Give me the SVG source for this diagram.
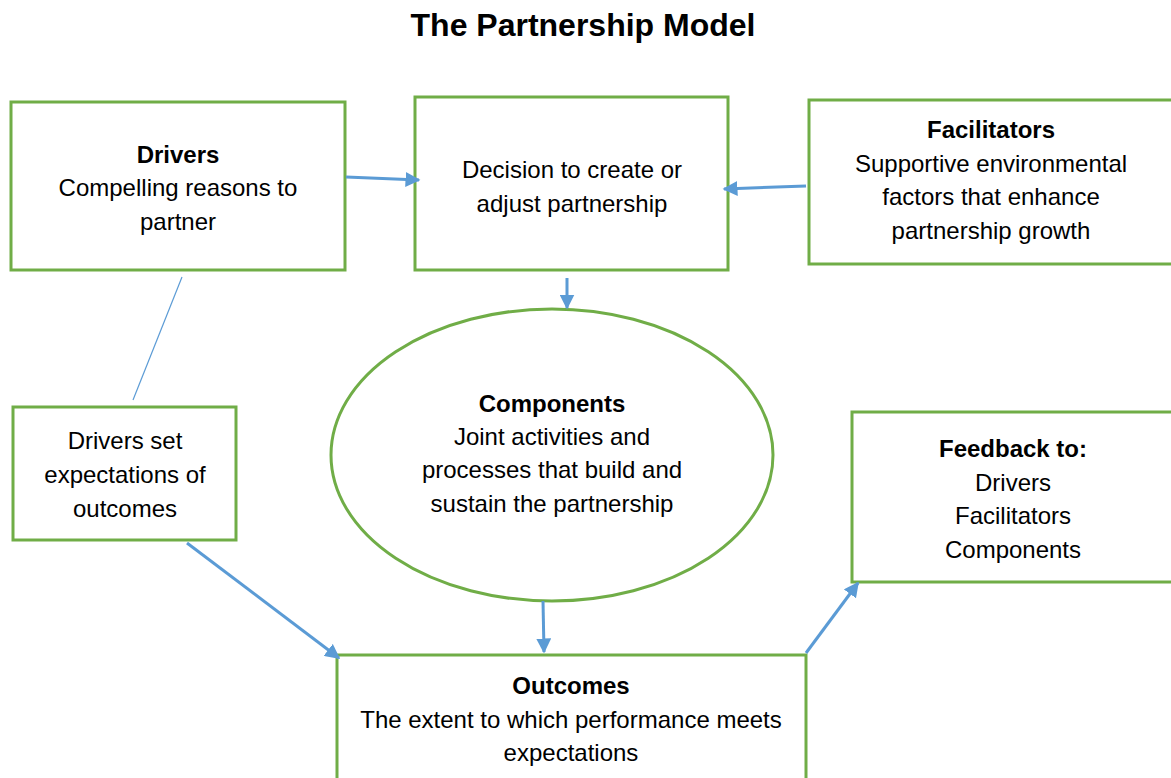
<svg xmlns="http://www.w3.org/2000/svg" width="1171" height="778" viewBox="0 0 1171 778">
  <defs>
    <style>
      .box { fill: #ffffff; stroke: #70AD47; stroke-width: 3; }
      .t { font-family: "Liberation Sans", Arial, sans-serif; font-size: 24px; fill: #000000; text-anchor: middle; }
      .b { font-weight: bold; }
      .title { font-family: "Liberation Sans", Arial, sans-serif; font-size: 32px; font-weight: bold; text-anchor: middle; fill: #000000; }
      .arrow { stroke: #5B9BD5; stroke-width: 3; fill: none; marker-end: url(#head); }
      .thin { stroke: #5B9BD5; stroke-width: 1.2; fill: none; }
    </style>
    <marker id="head" viewBox="0 0 10 10" refX="9" refY="5" markerWidth="5" markerHeight="5" orient="auto" markerUnits="strokeWidth">
      <path d="M0,0 L10,5 L0,10 z" fill="#5B9BD5"/>
    </marker>
  </defs>

  <rect width="1171" height="778" fill="#ffffff"/>

  <text class="title" x="583" y="36">The Partnership Model</text>

  <g id="drivers">
    <rect class="box" x="11" y="102" width="334" height="168"/>
    <text class="t b" x="178" y="163">Drivers</text>
    <text class="t" x="178" y="196">Compelling reasons to</text>
    <text class="t" x="178" y="230">partner</text>
  </g>

  <g id="decision">
    <rect class="box" x="415" y="97" width="313" height="173"/>
    <text class="t" x="572" y="178">Decision to create or</text>
    <text class="t" x="572" y="212">adjust partnership</text>
  </g>

  <g id="facilitators">
    <rect class="box" x="809" y="100" width="366" height="164"/>
    <text class="t b" x="991" y="138">Facilitators</text>
    <text class="t" x="991" y="172">Supportive environmental</text>
    <text class="t" x="991" y="205">factors that enhance</text>
    <text class="t" x="991" y="239">partnership growth</text>
  </g>

  <g id="components">
    <ellipse class="box" cx="552" cy="455" rx="221" ry="146"/>
    <text class="t b" x="552" y="412">Components</text>
    <text class="t" x="552" y="445">Joint activities and</text>
    <text class="t" x="552" y="478">processes that build and</text>
    <text class="t" x="552" y="512">sustain the partnership</text>
  </g>

  <g id="expectations">
    <rect class="box" x="13" y="407" width="223" height="133"/>
    <text class="t" x="125" y="449">Drivers set</text>
    <text class="t" x="125" y="483">expectations of</text>
    <text class="t" x="125" y="517">outcomes</text>
  </g>

  <g id="feedback">
    <rect class="box" x="852" y="412" width="323" height="170"/>
    <text class="t b" x="1013" y="457">Feedback to:</text>
    <text class="t" x="1013" y="491">Drivers</text>
    <text class="t" x="1013" y="524">Facilitators</text>
    <text class="t" x="1013" y="558">Components</text>
  </g>

  <g id="outcomes">
    <rect class="box" x="337" y="655" width="469" height="130"/>
    <text class="t b" x="571" y="694">Outcomes</text>
    <text class="t" x="571" y="728">The extent to which performance meets</text>
    <text class="t" x="571" y="761">expectations</text>
  </g>

  <g id="connectors">
    <line class="arrow" x1="346" y1="177" x2="419" y2="180"/>
    <line class="arrow" x1="806" y1="186" x2="724" y2="189"/>
    <line class="arrow" x1="567" y1="278" x2="567" y2="308"/>
    <line class="thin" x1="182" y1="277" x2="133" y2="400"/>
    <line class="arrow" x1="187" y1="543" x2="339" y2="658"/>
    <line class="arrow" x1="543" y1="601" x2="544" y2="652"/>
    <line class="arrow" x1="806" y1="653" x2="858" y2="583"/>
  </g>
</svg>
